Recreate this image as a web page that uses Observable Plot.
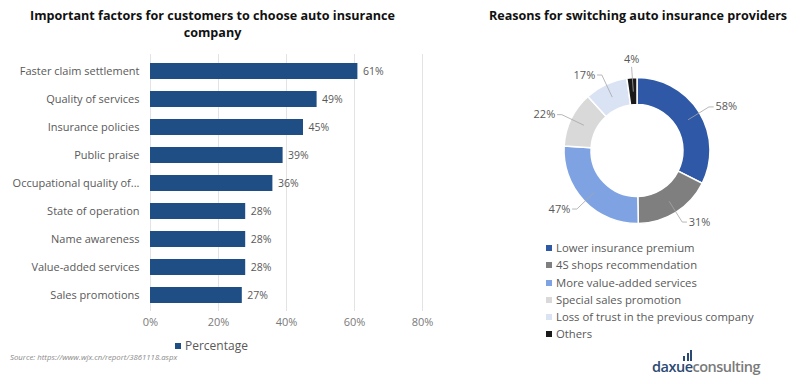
<!DOCTYPE html>
<html>
<head>
<meta charset="utf-8">
<script src="https://cdn.jsdelivr.net/npm/d3@7"></script>
<script src="https://cdn.jsdelivr.net/npm/@observablehq/plot@0.6"></script>
<style>
  html, body { margin: 0; padding: 0; background: #fff; }
  body { width: 800px; height: 384px; position: relative; overflow: hidden; font-family: "Open Sans", "Noto Sans", sans-serif; }
  .abs { position: absolute; }
  .title { font-weight: 700; font-size: 12.6px; color: #111; text-align: center; line-height: 16.5px; }
  .legend-row { font-size: 11.3px; color: #595959; height: 17.3px; line-height: 17.3px; white-space: nowrap; }
  .sw { display: inline-block; width: 6px; height: 6px; margin-right: 4px; vertical-align: 1px; }
</style>
</head>
<body>
<div id="left-title" class="abs title" style="left:0; top:8px; width:425px;">Important factors for customers to choose auto insurance<br>company</div>
<div id="bar" class="abs" style="left:0; top:44px;"></div>
<div id="bar-legend" class="abs legend-row" style="left:175px; top:337px; font-size:12px;"><span class="sw" style="background:#1f4e85"></span>Percentage</div>
<div id="source" class="abs" style="left:10px; top:352px; font-size:7.8px; font-style:italic; color:#8a8a8a;">Source: https://www.wjx.cn/report/3861118.aspx</div>

<div id="right-title" class="abs title" style="left:458px; top:8px; width:360px;">Reasons for switching auto insurance providers</div>
<div id="donut" class="abs" style="left:440px; top:40px;"></div>
<div id="donut-legend" class="abs" style="left:546px; top:239px;"></div>
<div id="logo" class="abs" style="left:652px; top:352px; font-family:'Open Sans',sans-serif; font-size:14.5px; letter-spacing:-0.5px; line-height:18px; white-space:nowrap;">
  <div class="abs" style="left:31px; top:4px; width:2px; height:5px; background:#2b4a73;"></div>
  <div class="abs" style="left:34.5px; top:1px; width:2px; height:8px; background:#2b4a73;"></div>
  <div class="abs" style="left:38px; top:-2px; width:2px; height:11px; background:#2b4a73;"></div>
  <div class="abs" style="left:0; top:6px;"><span style="color:#2b4a73;font-weight:600;">daxue</span><span style="color:#7a7a7a;font-weight:600;">consulting</span></div>
</div>

<script>
// ---------- data ----------
const factors = [
  "Faster claim settlement",
  "Quality of services",
  "Insurance policies",
  "Public praise",
  "Occupational quality of...",
  "State of operation",
  "Name awareness",
  "Value-added services",
  "Sales promotions"
];
const factorValues = [61, 49, 45, 39, 36, 28, 28, 28, 27];
const xTicks = [0, 20, 40, 60, 80];

const reasons = [
  "Lower insurance premium",
  "4S shops recommendation",
  "More value-added services",
  "Special sales promotion",
  "Loss of trust in the previous company",
  "Others"
];
const reasonValues = [58, 31, 47, 22, 17, 4];
const reasonColors = ["#2f59a6", "#7f7f7f", "#7fa3e2", "#d9d9d9", "#dae3f3", "#1a1a1a"];

const FONT = "'Open Sans', 'Noto Sans', sans-serif";

// ---------- bar chart ----------
const barData = factors.map((f, i) => ({ factor: f, value: factorValues[i] }));

const bar = Plot.plot({
  width: 440,
  height: 291,
  marginLeft: 150,
  marginRight: 18,
  marginTop: 10,
  marginBottom: 24,
  style: { fontFamily: FONT, fontSize: "11px", color: "#595959", background: "transparent" },
  x: { domain: [0, 80], label: null },
  y: { domain: factors, label: null, paddingInner: 0.437, paddingOuter: 0.25 },
  marks: [
    Plot.gridX(xTicks, { stroke: "#e3e3e3", strokeOpacity: 1 }),
    Plot.axisX({ ticks: xTicks, tickSize: 0, tickPadding: 7, tickFormat: d => d + "%", fill: "#7a7a7a", fontSize: 11, label: null }),
    Plot.axisY({ tickSize: 0, tickPadding: 11, fill: "#595959", fontSize: 11, label: null }),
    Plot.barX(barData, { x: "value", y: "factor", fill: "#1f4e85" }),
    Plot.text(barData, { x: "value", y: "factor", text: d => d.value + "%", textAnchor: "start", dx: 5, fill: "#595959", fontSize: 10.5 })
  ]
});
document.getElementById("bar").appendChild(bar);

// ---------- donut chart ----------
const donutData = reasons.map((r, i) => ({ reason: r, value: reasonValues[i], color: reasonColors[i] }));
const arcs = d3.pie().sort(null).value(d => d.value)(donutData);
const INNER = 0.63;

const labelInfo = arcs.map(a => {
  const mid = (a.startAngle + a.endAngle) / 2;
  const s = Math.sin(mid), c = Math.cos(mid);
  const side = Math.abs(s) < 0.15 ? "top" : (s > 0 ? "right" : "left");
  return { a, mid, s, c, side, label: a.data.value + "%" };
});

const leaderPts = [];
labelInfo.forEach((l, i) => {
  const r0 = 0.82, r1 = 1.15;
  leaderPts.push({ k: i, x: r0 * l.s, y: r0 * l.c });
  leaderPts.push({ k: i, x: r1 * l.s, y: r1 * l.c });
  if (l.side !== "top") {
    const h = l.side === "right" ? 0.06 : -0.06;
    leaderPts.push({ k: i, x: r1 * l.s + h, y: r1 * l.c });
  }
});
const textPts = labelInfo.map(l => {
  const r1 = 1.15;
  const h = l.side === "right" ? 0.09 : l.side === "left" ? -0.09 : 0;
  return { side: l.side, label: l.label, x: r1 * l.s + h, y: r1 * l.c };
});

function donutMark(index, scales, values, dimensions, context) {
  const cx = scales.x(0), cy = scales.y(0);
  const R = scales.x(1) - cx;
  const arcGen = d3.arc().innerRadius(R * INNER).outerRadius(R);
  const g = d3.create("svg:g").attr("transform", `translate(${cx},${cy})`);
  g.selectAll("path").data(arcs).join("path")
    .attr("d", arcGen)
    .attr("fill", d => d.data.color)
    .attr("stroke", "#fff")
    .attr("stroke-width", 1.5);
  return g.node();
}

const donut = Plot.plot({
  width: 360,
  height: 200,
  marginLeft: 124,
  marginRight: 90,
  marginTop: 37.5,
  marginBottom: 16.5,
  style: { fontFamily: FONT, fontSize: "11px", color: "#595959", background: "transparent", overflow: "visible" },
  x: { domain: [-1, 1], axis: null },
  y: { domain: [-1, 1], axis: null },
  marks: [
    donutMark,
    Plot.line(leaderPts, { x: "x", y: "y", z: "k", stroke: "#a6a6a6", strokeWidth: 0.8 }),
    Plot.text(textPts.filter(d => d.side === "right"), { x: "x", y: "y", text: "label", textAnchor: "start", fill: "#595959", fontSize: 11 }),
    Plot.text(textPts.filter(d => d.side === "left"), { x: "x", y: "y", text: "label", textAnchor: "end", fill: "#595959", fontSize: 11 }),
    Plot.text(textPts.filter(d => d.side === "top"), { x: "x", y: "y", text: "label", textAnchor: "middle", dy: -8, fill: "#595959", fontSize: 11 })
  ]
});
document.getElementById("donut").appendChild(donut);

// legend
const lg = document.getElementById("donut-legend");
donutData.forEach(d => {
  const row = document.createElement("div");
  row.className = "legend-row";
  const sw = document.createElement("span");
  sw.className = "sw";
  sw.style.background = d.color;
  row.appendChild(sw);
  row.appendChild(document.createTextNode(d.reason));
  lg.appendChild(row);
});
</script>
</body>
</html>
